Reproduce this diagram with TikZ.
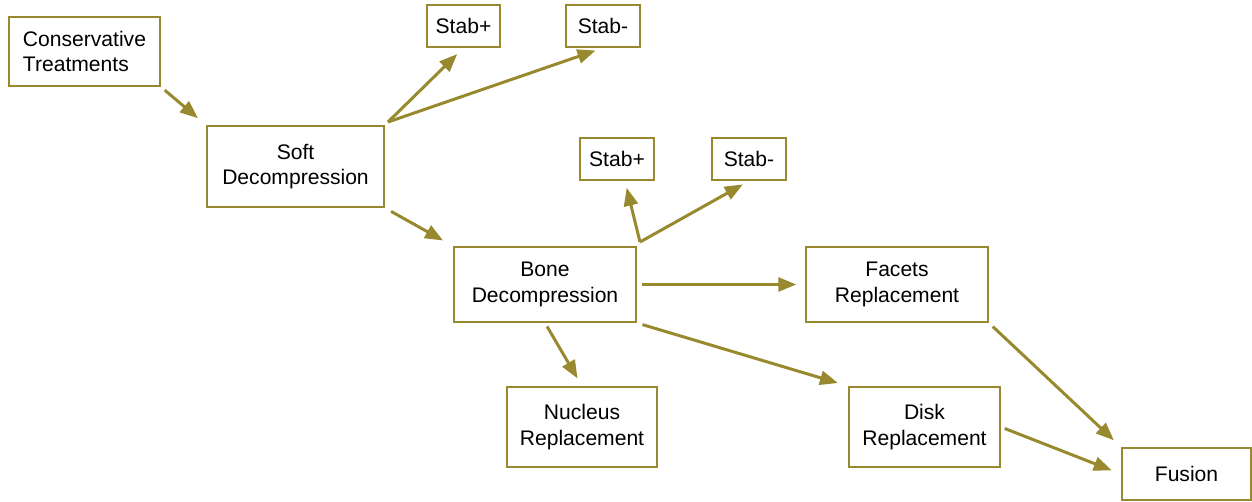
\documentclass[tikz,border=0pt]{standalone}
\usepackage{fontspec}
\setmainfont{Liberation Sans}
\definecolor{olivegold}{RGB}{152, 137, 46}
\usepackage{tikz}
\usetikzlibrary{arrows.meta, positioning, calc}

\begin{document}
\begin{tikzpicture}[x=0.02cm, y=-0.02cm,
  box/.style={draw=olivegold, line width=1.1pt, fill=white, align=center, inner sep=2pt,
    font=\fontsize{12}{14.5}\selectfont},
  stabbox/.style={box, minimum width=1.48cm, minimum height=0.84cm},
  arr/.style={draw=olivegold, line width=1.7pt, -{Triangle[length=0.36cm, width=0.28cm]}}]
  \useasboundingbox (0,0) rectangle (1252,501);

  % treatment steps
  \node[box, align=left, minimum width=3.02cm, minimum height=1.38cm] (cons) at (84.5,51.5) {Conservative\\Treatments};
  \node[box, minimum width=3.54cm, minimum height=1.62cm] (soft) at (295.5,166.5) {Soft\\Decompression};
  \node[box, minimum width=3.64cm, minimum height=1.5cm] (bone) at (545,284.5) {Bone\\Decompression};
  \node[box, minimum width=3.64cm, minimum height=1.5cm] (facets) at (897,284.5) {Facets\\Replacement};
  \node[box, minimum width=3.0cm, minimum height=1.6cm] (nucleus) at (582,427) {Nucleus\\Replacement};
  \node[box, minimum width=3.02cm, minimum height=1.6cm] (disk) at (924.5,427) {Disk\\Replacement};
  \node[box, minimum width=2.58cm, minimum height=1.04cm] (fusion) at (1186.5,474) {Fusion};

  \node[stabbox, minimum width=1.46cm] (stabA) at (463.5,26) {Stab+};
  \node[stabbox] (stabB) at (603,26) {Stab-};
  \node[stabbox] (stabC) at (617,159) {Stab+};
  \node[stabbox] (stabD) at (749,159) {Stab-};

  \coordinate (sfork) at (388,122);
  \coordinate (bfork) at (640,242);

  % connectors
  \draw[arr, shorten <=2.8pt, shorten >=6pt] (cons.south east) -- (soft.north west);
  \draw[arr, shorten >=5pt] (sfork) -- (stabA.south);
  \draw[arr, shorten >=4.5pt] (sfork) -- (stabB.south);
  \draw[arr, shorten <=4pt, shorten >=6.5pt] (soft.south east) -- (bone.north west);
  \draw[arr, shorten >=4pt] (bfork) -- ($(stabC.south)+(8,0)$);
  \draw[arr, shorten >=4pt] (bfork) -- (stabD.south);
  \draw[arr, shorten <=3pt, shorten >=5pt] (bone.east) -- (facets.west);
  \draw[arr, shorten <=2.3pt, shorten >=5pt] (bone.south) -- (nucleus.north);
  \draw[arr, shorten <=3.3pt, shorten >=6pt] (bone.south east) -- (disk.north west);
  \draw[arr, shorten <=3pt, shorten >=5.6pt] (facets.south east) -- (fusion.north west);
  \draw[arr, shorten <=2.3pt, shorten >=5.7pt] (disk.east) -- (fusion.west);
\end{tikzpicture}
\end{document}
